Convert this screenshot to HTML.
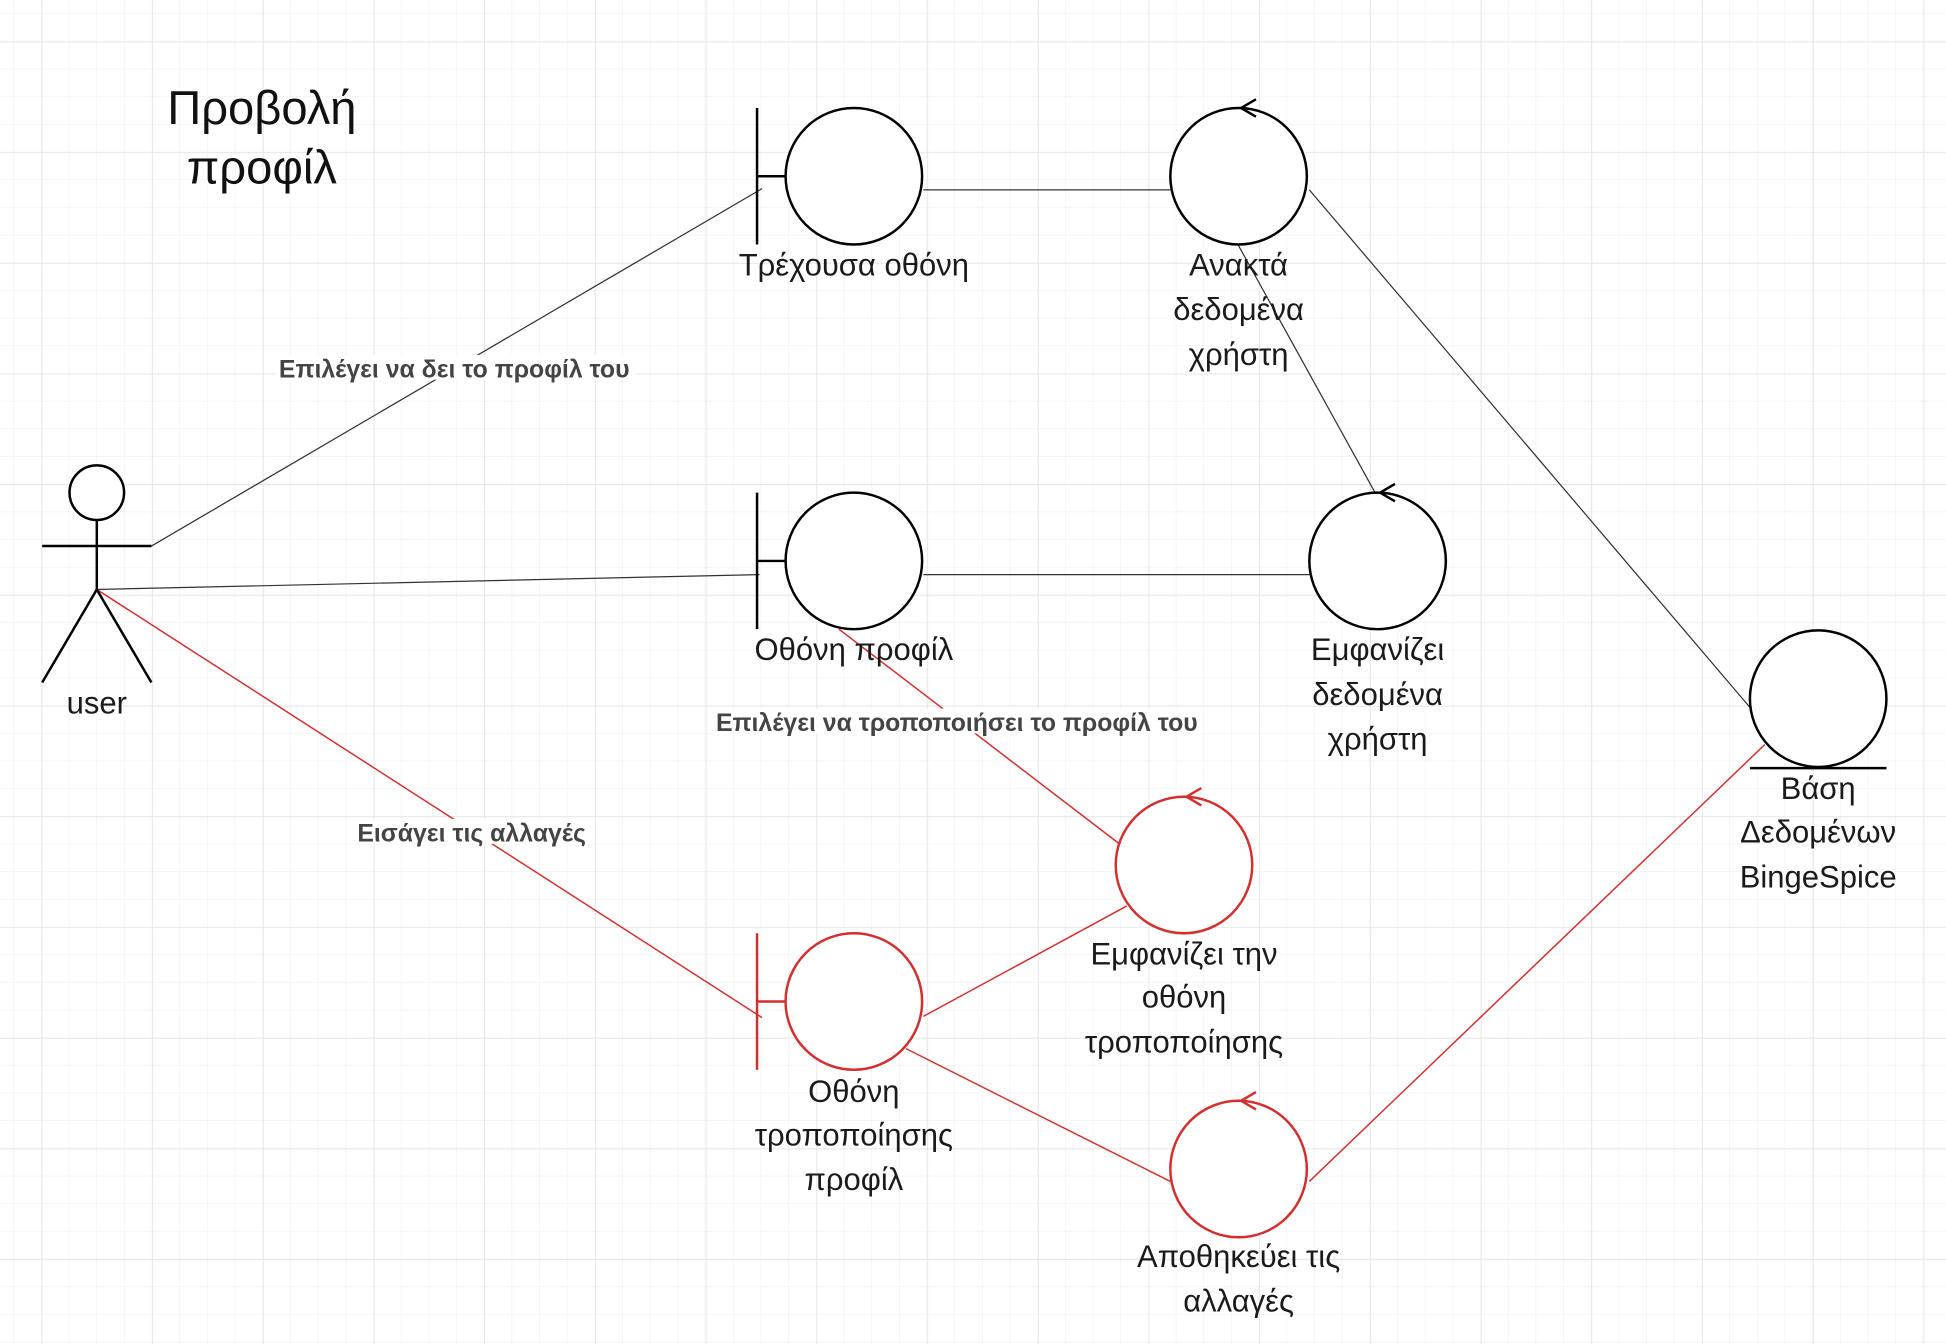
<!DOCTYPE html>
<html><head><meta charset="utf-8"><style>
html,body{margin:0;padding:0;background:#fff;width:1946px;height:1344px;overflow:hidden}
svg{display:block}
text{font-family:"Liberation Sans","DejaVu Sans",sans-serif}
.n{font-size:25px;fill:#1a1a1a;text-anchor:middle}
.e{font-size:20px;font-weight:bold;fill:#444;text-anchor:middle}
</style></head><body>
<svg width="1946" height="1344" viewBox="0 0 1568 1083" preserveAspectRatio="none" xmlns="http://www.w3.org/2000/svg">
<defs>
<pattern id="mi" width="22.3" height="22.3" patternUnits="userSpaceOnUse" x="11.3" y="11.3">
<path d="M22.3 0V22.3M0 22.3H22.3" fill="none" stroke="#f0f0f0" stroke-width="1"/>
</pattern>
<pattern id="ma" width="89.2" height="89.2" patternUnits="userSpaceOnUse" x="33.6" y="33.6">
<path d="M0 0V89.2M0 0H89.2" fill="none" stroke="#e0e0e0" stroke-width="1"/>
</pattern>
</defs>
<rect width="1568" height="1083" fill="url(#mi)"/>
<rect width="1568" height="1083" fill="url(#ma)"/>

<g stroke="#333" stroke-width="1" fill="none">
<line x1="122" y1="440" x2="614" y2="152"/>
<line x1="744" y1="153" x2="943" y2="153"/>
<line x1="1055" y1="153" x2="1410" y2="570"/>
<line x1="998" y1="198" x2="1108" y2="397"/>
<line x1="78" y1="475" x2="612" y2="463"/>
<line x1="744" y1="463" x2="1055" y2="463"/>
</g>
<g stroke="#d32f2f" stroke-width="1.2" fill="none">
<line x1="676" y1="507" x2="902" y2="680"/>
<line x1="78" y1="475" x2="614" y2="820"/>
<line x1="744" y1="819" x2="908" y2="730"/>
<line x1="730" y1="845" x2="943" y2="952"/>
<line x1="1055" y1="952" x2="1422" y2="600"/>
</g>

<rect x="222" y="286" width="290" height="20" fill="#fff"/>
<text class="e" x="366" y="304">Επιλέγει να δει το προφίλ του</text>
<rect x="575" y="571" width="393" height="20" fill="#fff"/>
<text class="e" x="771" y="589">Επιλέγει να τροποποιήσει το προφίλ του</text>
<rect x="282" y="660" width="197" height="20" fill="#fff"/>
<text class="e" x="380" y="678">Εισάγει τις αλλαγές</text>

<text x="211" y="100" style="font-size:38px;fill:#111;text-anchor:middle">Προβολή</text>
<text x="211" y="148" style="font-size:38px;fill:#111;text-anchor:middle">προφίλ</text>

<g stroke="#000" stroke-width="2" fill="#fff">
<circle cx="78" cy="397" r="22"/>
<line x1="78" y1="419" x2="78" y2="475"/>
<line x1="34" y1="440" x2="122" y2="440"/>
<line x1="78" y1="475" x2="34" y2="550"/>
<line x1="78" y1="475" x2="122" y2="550"/>
</g>
<text class="n" x="78" y="575">user</text>

<g stroke="#000" stroke-width="2" fill="#fff">
<line x1="610" y1="87" x2="610" y2="197"/><line x1="610" y1="142" x2="633" y2="142"/>
<circle cx="688" cy="142" r="55"/>
<line x1="610" y1="397" x2="610" y2="507"/><line x1="610" y1="452" x2="633" y2="452"/>
<circle cx="688" cy="452" r="55"/>
</g>
<g stroke="#d32f2f" stroke-width="2" fill="#fff">
<line x1="610" y1="752" x2="610" y2="862"/><line x1="610" y1="807" x2="633" y2="807"/>
<circle cx="688" cy="807" r="55"/>
</g>

<g stroke="#000" stroke-width="2" fill="#fff">
<circle cx="998" cy="142" r="55"/>
<path d="M1012 80L1000 87L1012 94" fill="none"/>
<circle cx="1110" cy="452" r="55"/>
<path d="M1124 390L1112 397L1124 404" fill="none"/>
<circle cx="1465" cy="563" r="55"/>
<line x1="1410" y1="619" x2="1520" y2="619"/>
</g>
<g stroke="#d32f2f" stroke-width="2" fill="#fff">
<circle cx="954" cy="697" r="55"/>
<path d="M968 635L956 642L968 649" fill="none"/>
<circle cx="998" cy="942" r="55"/>
<path d="M1012 880L1000 887L1012 894" fill="none"/>
</g>

<text class="n" x="688" y="222">Τρέχουσα οθόνη</text>
<text class="n" x="998" y="222">Ανακτά</text>
<text class="n" x="998" y="258">δεδομένα</text>
<text class="n" x="998" y="294">χρήστη</text>
<text class="n" x="688" y="532">Οθόνη προφίλ</text>
<text class="n" x="1110" y="532">Εμφανίζει</text>
<text class="n" x="1110" y="568">δεδομένα</text>
<text class="n" x="1110" y="604">χρήστη</text>
<text class="n" x="1465" y="644">Βάση</text>
<text class="n" x="1465" y="679">Δεδομένων</text>
<text class="n" x="1465" y="715">BingeSpice</text>
<text class="n" x="954" y="777">Εμφανίζει την</text>
<text class="n" x="954" y="812">οθόνη</text>
<text class="n" x="954" y="848">τροποποίησης</text>
<text class="n" x="688" y="888">Οθόνη</text>
<text class="n" x="688" y="923">τροποποίησης</text>
<text class="n" x="688" y="959">προφίλ</text>
<text class="n" x="998" y="1021">Αποθηκεύει τις</text>
<text class="n" x="998" y="1057">αλλαγές</text>
</svg>
</body></html>
